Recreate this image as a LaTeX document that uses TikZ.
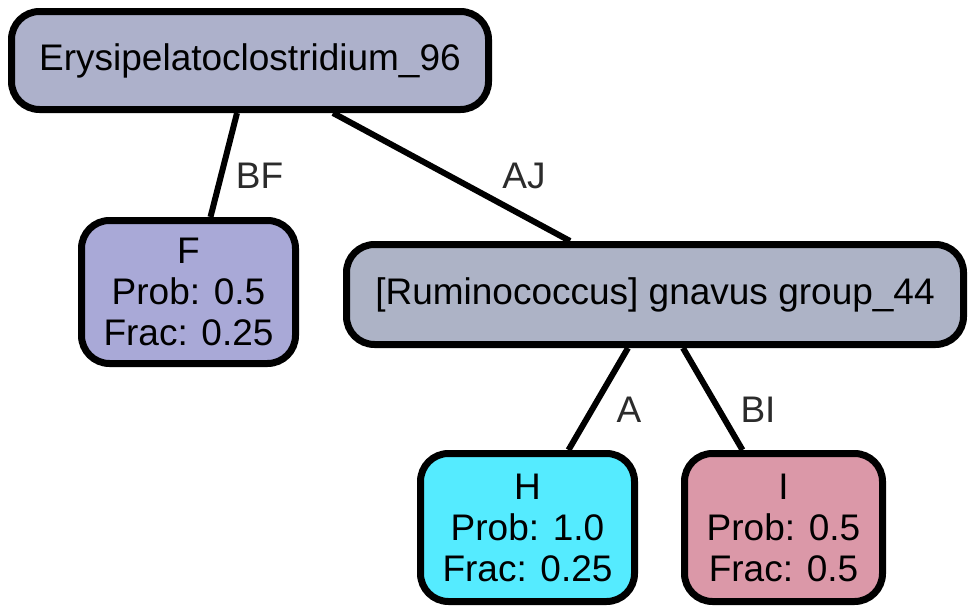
\documentclass[tikz,border=0pt]{standalone}
\usepackage{fontspec}
\setmainfont{Liberation Sans}
\usepackage{tikz}
\usetikzlibrary{positioning}

\definecolor{rootfill}{HTML}{ADB1CB}
\definecolor{ffill}{HTML}{A9A9D7}
\definecolor{rumfill}{HTML}{ADB3C6}
\definecolor{hfill}{HTML}{55EBFF}
\definecolor{ifill}{HTML}{DB98A8}
\definecolor{lblgray}{HTML}{2B2B2B}

\tikzset{
  taxon/.style={draw=black, line width=7pt, rounded corners=28pt, inner sep=0pt,
    align=center, font=\fontsize{37}{41}\selectfont},
  link/.style={line width=6pt},
  lbl/.style={text=lblgray, inner sep=0pt, font=\fontsize{37}{41}\selectfont}
}

\begin{document}
\begin{tikzpicture}[x=1pt, y=-1pt]
  \useasboundingbox (0,0) rectangle (975,613);

  \coordinate (Cr) at (250.0, 60.5);
  \coordinate (Cf) at (188.5, 292.0);
  \coordinate (Cg) at (655.0, 294.5);
  \coordinate (Ch) at (527.5, 527.5);
  \coordinate (Ci) at (783.5, 527.5);

  % nodes
  \node[taxon, fill=rootfill, minimum width=477pt, minimum height=98pt] (root) at (Cr) {Erysipelatoclostridium\_96};
  \node[taxon, fill=ffill, minimum width=214pt, minimum height=143pt] (F) at (Cf) {F\\Prob: 0.5\\Frac: 0.25};
  \node[taxon, fill=rumfill, minimum width=617pt, minimum height=100pt] (rum) at (Cg) {[Ruminococcus] gnavus group\_44};
  \node[taxon, fill=hfill, minimum width=214pt, minimum height=148pt] (H) at (Ch) {H\\Prob: 1.0\\Frac: 0.25};
  \node[taxon, fill=ifill, minimum width=198pt, minimum height=148pt] (I) at (Ci) {I\\Prob: 0.5\\Frac: 0.5};

  % edges
  \draw[link] ([xshift=-13pt]root.south) -- ([xshift=22pt]F.north);
  \draw[link] ([xshift=83pt]root.south) -- ([xshift=-85pt]rum.north);
  \draw[link] ([xshift=-27pt]rum.south) -- ([xshift=41pt]H.north);
  \draw[link] ([xshift=28pt]rum.south) -- ([xshift=-41pt]I.north);

  % edge labels
  \node[lbl] (lBF) at (259.5, 176) {BF};
  \node[lbl] (lAJ) at (524.0, 176) {AJ};
  \node[lbl] (lA) at (629.0, 410) {A};
  \node[lbl] (lBI) at (758.0, 410) {BI};
\end{tikzpicture}
\end{document}
